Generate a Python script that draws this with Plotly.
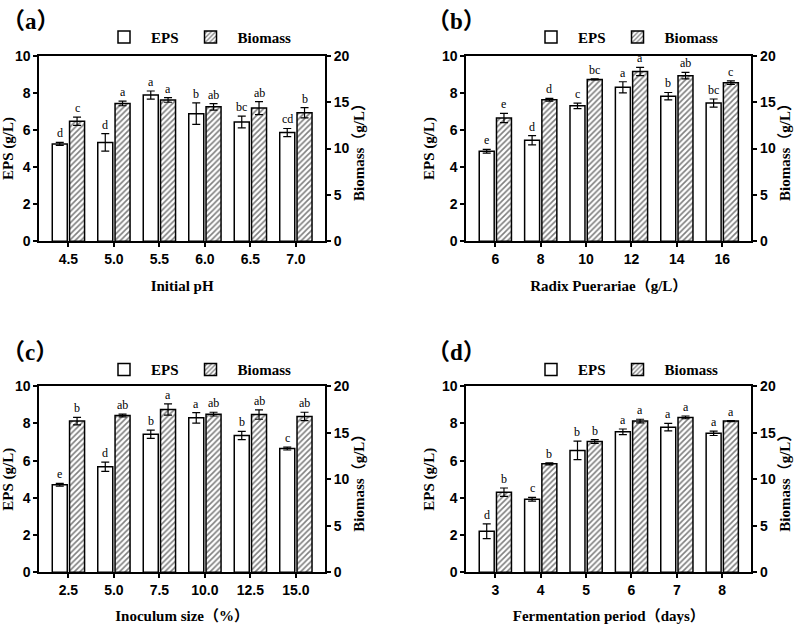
import plotly.graph_objects as go
from plotly.subplots import make_subplots

# (a) initial pH
ph_labels = ["4.5", "5.0", "5.5", "6.0", "6.5", "7.0"]
ph_eps = [5.25, 5.33, 7.88, 6.88, 6.43, 5.86]
ph_eps_err = [0.08, 0.47, 0.22, 0.58, 0.32, 0.22]
ph_bio = [12.94, 14.86, 15.24, 14.50, 14.36, 13.86]
ph_bio_err = [0.45, 0.25, 0.25, 0.35, 0.70, 0.55]
ph_eps_sig = ["d", "d", "a", "b", "bc", "cd"]
ph_bio_sig = ["c", "a", "a", "ab", "ab", "b"]

# (b) radix puerariae
rp_labels = ["6", "8", "10", "12", "14", "16"]
rp_eps = [4.85, 5.45, 7.30, 8.30, 7.82, 7.45]
rp_eps_err = [0.10, 0.25, 0.15, 0.30, 0.20, 0.22]
rp_bio = [13.30, 15.25, 17.45, 18.30, 17.85, 17.10]
rp_bio_err = [0.50, 0.15, 0.05, 0.45, 0.35, 0.20]
rp_eps_sig = ["e", "d", "c", "a", "b", "bc"]
rp_bio_sig = ["e", "d", "bc", "a", "ab", "c"]

# (c) inoculum size
inoc_labels = ["2.5", "5.0", "7.5", "10.0", "12.5", "15.0"]
inoc_eps = [4.70, 5.67, 7.42, 8.30, 7.35, 6.65]
inoc_eps_err = [0.07, 0.25, 0.22, 0.28, 0.22, 0.08]
inoc_bio = [16.25, 16.85, 17.50, 17.00, 16.95, 16.75]
inoc_bio_err = [0.40, 0.15, 0.60, 0.20, 0.50, 0.45]
inoc_eps_sig = ["e", "d", "b", "a", "b", "c"]
inoc_bio_sig = ["b", "ab", "a", "ab", "ab", "ab"]

# (d) fermentation period
days_labels = ["3", "4", "5", "6", "7", "8"]
days_eps = [2.20, 3.92, 6.55, 7.55, 7.80, 7.47]
days_eps_err = [0.40, 0.10, 0.50, 0.15, 0.20, 0.12]
days_bio = [8.60, 11.65, 14.05, 16.25, 16.65, 16.25]
days_bio_err = [0.45, 0.12, 0.20, 0.20, 0.15, 0.05]
days_eps_sig = ["d", "c", "b", "a", "a", "a"]
days_bio_sig = ["b", "b", "b", "a", "a", "a"]

panels = [
    ("a", "Initial pH", ph_labels, ph_eps, ph_eps_err, ph_bio, ph_bio_err, ph_eps_sig, ph_bio_sig),
    ("b", "Radix Puerariae（g/L）", rp_labels, rp_eps, rp_eps_err, rp_bio, rp_bio_err, rp_eps_sig, rp_bio_sig),
    ("c", "Inoculum size（%）", inoc_labels, inoc_eps, inoc_eps_err, inoc_bio, inoc_bio_err, inoc_eps_sig, inoc_bio_sig),
    ("d", "Fermentation period（days）", days_labels, days_eps, days_eps_err, days_bio, days_bio_err, days_eps_sig, days_bio_sig),
]

SERIF = "Liberation Serif, Times New Roman, Noto Sans CJK SC, serif"
SANS = "Liberation Sans, Arial, sans-serif"
W, H = 797, 636


def px_x(v):
    return v / W


def px_y(v):
    return 1 - v / H


x_domains = [(px_x(39.3), px_x(325.0)), (px_x(466.3), px_x(751.3))]
y_domains = [(px_y(239.3), px_y(49.0)), (px_y(578.7), px_y(388.0))]
label_pos = [(0, 14), (425, 14), (0, 353), (425, 353)]
legend_pos = [(197, 30), (624, 30), (197, 371), (624, 371)]

BAR_W = 0.33
EPS_OFF = -0.355
BIO_OFF = 0.025

fig = make_subplots(rows=2, cols=2, specs=[[{"secondary_y": True}] * 2] * 2)

annotations = []
legend_layout = {}
for k, (tag, xtitle, cats, eps, eps_err, bio, bio_err, eps_sig, bio_sig) in enumerate(panels):
    row, col = k // 2 + 1, k % 2 + 1
    xref = "x" if k == 0 else f"x{k + 1}"
    y1ref = "y" if k == 0 else f"y{2 * k + 1}"
    y2ref = f"y{2 * k + 2}"
    lname = "legend" if k == 0 else f"legend{k + 1}"

    fig.add_trace(
        go.Bar(
            x=cats, y=eps, name="EPS", legend=lname,
            width=BAR_W, offset=EPS_OFF,
            marker=dict(color="white", line=dict(color="black", width=1.5)),
            error_y=dict(type="data", array=eps_err, color="black", thickness=1.2, width=4),
        ),
        row=row, col=col, secondary_y=False,
    )
    fig.add_trace(
        go.Bar(
            x=cats, y=bio, name="Biomass", legend=lname,
            width=BAR_W, offset=BIO_OFF,
            marker=dict(
                color="white", line=dict(color="black", width=1.5),
                pattern=dict(shape="/", fgcolor="black", bgcolor="white", size=4, solidity=0.4),
            ),
            error_y=dict(type="data", array=bio_err, color="black", thickness=1.2, width=4),
        ),
        row=row, col=col, secondary_y=True,
    )

    # significance letters
    for i in range(len(cats)):
        annotations.append(dict(
            x=i + EPS_OFF + BAR_W / 2, y=eps[i] + eps_err[i], xref=xref, yref=y1ref,
            text=eps_sig[i], showarrow=False, yanchor="bottom",
            font=dict(family=SERIF, size=12, color="black"),
        ))
        annotations.append(dict(
            x=i + BIO_OFF + BAR_W / 2, y=bio[i] + bio_err[i], xref=xref, yref=y2ref,
            text=bio_sig[i], showarrow=False, yanchor="bottom",
            font=dict(family=SERIF, size=12, color="black"),
        ))

    lx, ly = label_pos[k]
    annotations.append(dict(
        x=px_x(lx), y=px_y(ly), xref="paper", yref="paper",
        text=f"<b>（{tag}）</b>", showarrow=False, xanchor="left", yanchor="middle",
        font=dict(family=SERIF, size=23, color="black"),
    ))

    gx, gy = legend_pos[k]
    legend_layout[lname] = dict(
        x=px_x(gx), y=px_y(gy), xanchor="center", yanchor="middle", orientation="h",
        font=dict(family=SERIF, size=15, color="black", weight="bold"),
        bgcolor="rgba(0,0,0,0)", itemwidth=44,
    )

    fig.update_xaxes(
        row=row, col=col, domain=x_domains[col - 1], type="category", range=[-0.64, len(cats) - 0.36],
        showline=True, linecolor="black", linewidth=2, mirror=True,
        ticks="outside", ticklen=4, tickwidth=2, tickcolor="black",
        tickfont=dict(family=SANS, size=14, color="black", weight="bold"),
        title=dict(text=xtitle, standoff=14, font=dict(family=SERIF, size=15, color="black", weight="bold")),
        showgrid=False, zeroline=False,
    )
    fig.update_yaxes(
        row=row, col=col, secondary_y=False, domain=y_domains[row - 1], range=[0, 10], dtick=2,
        showline=True, linecolor="black", linewidth=2,
        ticks="outside", ticklen=4, tickwidth=2, tickcolor="black",
        tickfont=dict(family=SANS, size=14, color="black", weight="bold"),
        title=dict(text="EPS (g/L)", standoff=4, font=dict(family=SERIF, size=15, color="black", weight="bold")),
        showgrid=False, zeroline=False,
    )
    fig.update_yaxes(
        row=row, col=col, secondary_y=True, domain=y_domains[row - 1], range=[0, 20], dtick=5,
        showline=True, linecolor="black", linewidth=2,
        ticks="outside", ticklen=4, tickwidth=2, tickcolor="black",
        tickfont=dict(family=SANS, size=14, color="black", weight="bold"),
        title=dict(text="Biomass（g/L）", standoff=5, font=dict(family=SERIF, size=15, color="black", weight="bold")),
        showgrid=False, zeroline=False,
    )

fig.update_layout(
    width=W, height=H,
    margin=dict(l=0, r=0, t=0, b=0),
    plot_bgcolor="white", paper_bgcolor="white",
    barmode="overlay",
    showlegend=True,
    annotations=annotations,
    **legend_layout,
)

# drop the default 8px body margin so the figure fills the window exactly
fig.write_html(
    "out.html",
    config={"displayModeBar": False},
    post_script="document.body.style.margin = '0';",
)
